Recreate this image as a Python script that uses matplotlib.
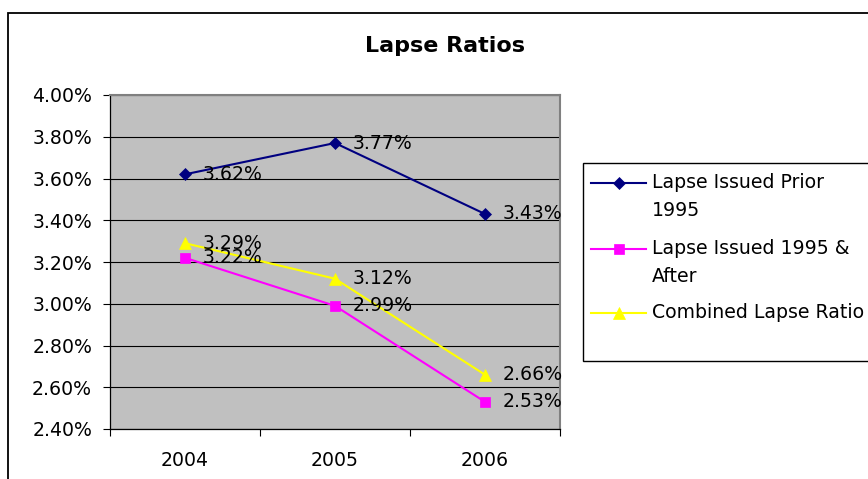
import matplotlib
matplotlib.use("Agg")
import matplotlib.pyplot as plt
from matplotlib.lines import Line2D
from matplotlib.patches import Rectangle
from matplotlib.ticker import FuncFormatter, FixedLocator

plt.rcParams['font.family'] = ['DejaVu Sans']

years = ["2004", "2005", "2006"]
prior_1995 = [3.62, 3.77, 3.43]
issued_1995_after = [3.22, 2.99, 2.53]
combined = [3.29, 3.12, 2.66]

series_names = ["Lapse Issued Prior\n1995", "Lapse Issued 1995 &\nAfter", "Combined Lapse Ratio"]
y_ticks = [2.40, 2.60, 2.80, 3.00, 3.20, 3.40, 3.60, 3.80, 4.00]

W, H = 868, 479
FS = 13.6


def fx(px):
    return px / W


def fy(py):
    return 1 - py / H


styles = [
    dict(color="#000080", marker="D", markersize=6.6),
    dict(color="#FF00FF", marker="s", markersize=7.6),
    dict(color="#FFFF00", marker="^", markersize=9.2),
]

fig = plt.figure(figsize=(W / 100, H / 100), dpi=100)
fig.patch.set_facecolor("white")

# outer chart border
fig.add_artist(Rectangle((fx(8), fy(600)), fx(1000), fy(13) - fy(600),
                         transform=fig.transFigure, fill=False,
                         edgecolor="black", linewidth=1.3))

ax = fig.add_axes([fx(110), fy(429), fx(560) - fx(110), fy(95) - fy(429)])
ax.set_facecolor("#C0C0C0")

x = list(range(len(years)))
for vals, st in zip([prior_1995, issued_1995_after, combined], styles):
    ax.plot(x, vals, color=st["color"], linewidth=1.5, marker=st["marker"],
            markersize=st["markersize"], markerfacecolor=st["color"],
            markeredgecolor=st["color"], markeredgewidth=0.5, zorder=3)
    for xi, v in zip(x, vals):
        ax.annotate(f"{v:.2f}%", (xi, v), xytext=(13, 0), textcoords="offset points",
                    ha="left", va="center", fontsize=FS, color="black",
                    zorder=4, annotation_clip=False)

ax.set_xlim(-0.5, len(years) - 0.5)
ax.set_ylim(y_ticks[0], y_ticks[-1])

ax.set_yticks(y_ticks)
ax.yaxis.set_major_formatter(FuncFormatter(lambda v, p: f"{v:.2f}%"))
ax.tick_params(axis="y", direction="out", length=5, width=0.8, pad=7.9,
               labelsize=FS, color="black")

ax.xaxis.set_major_locator(FixedLocator([-0.5, 0.5, 1.5, 2.5]))
ax.xaxis.set_minor_locator(FixedLocator(x))
ax.set_xticklabels([], minor=False)
ax.set_xticklabels(years, minor=True)
ax.tick_params(axis="x", which="major", direction="out", length=5, width=0.8,
               color="black")
ax.tick_params(axis="x", which="minor", length=0, pad=16, labelsize=FS)

ax.yaxis.grid(True, color="black", linewidth=0.8)
ax.set_axisbelow(True)

for side in ("left", "bottom"):
    ax.spines[side].set_color("black")
    ax.spines[side].set_linewidth(0.9)
for side in ("top", "right"):
    ax.spines[side].set_color("#808080")
    ax.spines[side].set_linewidth(1.5)

fig.text(fx(445), fy(45.5), "Lapse Ratios", ha="center", va="center",
         fontsize=16, fontweight="bold")

# legend box
fig.add_artist(Rectangle((fx(583), fy(361)), fx(400), fy(163) - fy(361),
                         transform=fig.transFigure, facecolor="white",
                         edgecolor="black", linewidth=1.0))
entry_y = [183, 249, 313]
for name, st, ey in zip(series_names, styles, entry_y):
    fig.add_artist(Line2D([fx(591), fx(618.5), fx(646)], [fy(ey)] * 3,
                          transform=fig.transFigure, color=st["color"],
                          linewidth=1.5, marker=st["marker"], markevery=[1],
                          markersize=st["markersize"],
                          markerfacecolor=st["color"],
                          markeredgecolor=st["color"], markeredgewidth=0.5))
    for i, line in enumerate(name.split("\n")):
        fig.text(fx(652), fy(ey + 27 * i), line, ha="left", va="center",
                 fontsize=FS, color="black")

fig.savefig("out.png", dpi=100)
